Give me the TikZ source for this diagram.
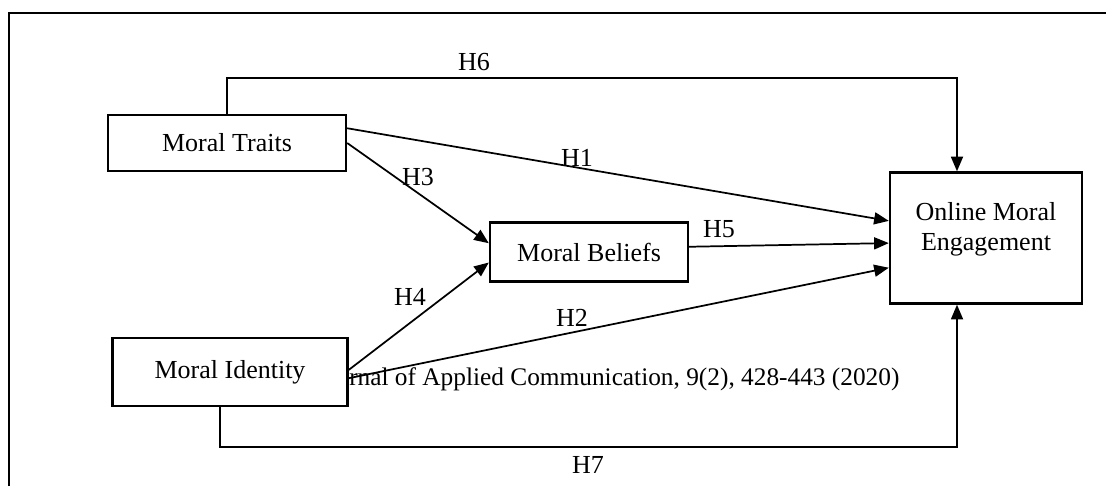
\documentclass[tikz,border=0pt]{standalone}
\usepackage{fontspec}
\setmainfont{Liberation Serif}
\usetikzlibrary{arrows.meta,calc}

\begin{document}
\begin{tikzpicture}[x=0.75pt,y=0.75pt,yscale=-1,xscale=1,
	every node/.style={font=\fontsize{19.5}{22.5}\selectfont},
	varbox/.style={draw,line width=1.8pt,fill=white,inner sep=0pt},
	conn/.style={line width=1.3pt,-{Triangle[length=11pt,width=9pt]}},
	hyp/.style={inner sep=1pt}]
		
		\useasboundingbox (0,0) rectangle (1106,486);
		
		%Outer frame
		\draw[line width=1.8pt] (9,486) -- (9,13) -- (1106,13);
		
		%Boxes
		\node[varbox,minimum width=178.5pt,minimum height=42pt] (mt) at (227,143) {Moral Traits};
		\node[varbox,minimum width=176.25pt,minimum height=51pt] (mi) at (230,372) {Moral Identity};
		\node[varbox,minimum width=148.5pt,minimum height=44.25pt] (mb) at (589,252) {Moral Beliefs};
		\node[varbox,minimum width=144pt,minimum height=98.25pt] (ome) at (986,238) {};
		\node[align=center,inner sep=0pt] (omet) at (986,229) {Online Moral\\Engagement};
		
		%Turning points
		\coordinate (h6) at (226,78);
		\coordinate (h7) at (220,447);
		
		%Connectors
		\draw[conn] (mt.north) -- (mt.north |- h6) -| ($(ome.north)+(-29,0)$);
		\draw[conn] (mt.7) -- (ome.170);
		\draw[conn] (mt.east) -- (mb.175);
		\draw[conn] (mb.3) -- (ome.183);
		\draw[conn] (mi.1) -- (mb.186);
		\draw[conn] (mi.-3) -- (ome.197);
		\draw[conn] (mi.south -| h7) -- (h7) -| ($(ome.south)+(-29,0)$);
		
		% Text Node
		\node[anchor=base west,inner sep=0pt,font=\fontsize{19}{22}\selectfont] (cite) at (349,385) {rnal of Applied Communication, 9(2), 428-443 (2020)};
		
		%Hypotheses
		\node[hyp] (l6) at (474,62) {H6};
		\node[hyp] (l1) at (577,158) {H1};
		\node[hyp] (l3) at (418,177) {H3};
		\node[hyp] (l5) at (719,229) {H5};
		\node[hyp] (l4) at (410,297) {H4};
		\node[hyp] (l2) at (572,318) {H2};
		\node[hyp] (l7) at (588,465) {H7};
		
\end{tikzpicture}
\end{document}
